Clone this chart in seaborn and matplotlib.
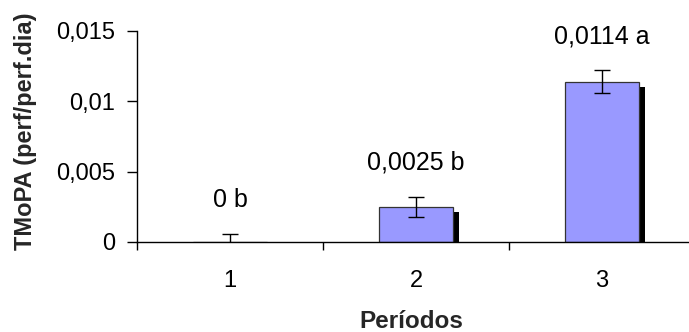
import matplotlib
matplotlib.use("Agg")
import matplotlib.pyplot as plt
import matplotlib.transforms as mtransforms
from matplotlib.ticker import FixedLocator
import seaborn as sns
import pandas as pd

periods = ["1", "2", "3"]
values = [0.0, 0.0025, 0.0114]
errors = [0.0006, 0.0007, 0.0008]
labels = ["0 b", "0,0025 b", "0,0114 a"]
yticks = [0, 0.005, 0.01, 0.015]
ytick_labels = ["0", "0,005", "0,01", "0,015"]

sns.set_theme(style="white")
plt.rcParams["font.family"] = ["Liberation Sans", "DejaVu Sans"]

df = pd.DataFrame({"Periodo": periods, "TMoPA": values})

fig = plt.figure(figsize=(6.89, 3.32), dpi=100)
W, H = 689, 332
ax = fig.add_axes([137 / W, (H - 242) / H, 558 / W, 211 / H])

# shadow bars
sns.barplot(data=df, x="Periodo", y="TMoPA", color="black", width=0.4,
            saturation=1, errorbar=None, ax=ax, zorder=1)
shadow_patches = list(ax.patches)
off = mtransforms.ScaledTranslation(6 / 100, -5 / 100, fig.dpi_scale_trans)
for p in shadow_patches:
    p.set_transform(ax.transData + off)
    p.set_linewidth(0)

# main bars
sns.barplot(data=df, x="Periodo", y="TMoPA", color="#9999FF", width=0.4,
            saturation=1, errorbar=None, ax=ax, zorder=2,
            edgecolor="#333333", linewidth=0.9)

xs = list(range(len(periods)))
ax.errorbar(xs, values, yerr=errors, fmt="none", ecolor="black",
            elinewidth=1.0, capsize=5.8, capthick=1.0, zorder=3)

for x, v, e, lab in zip(xs, values, errors, labels):
    ax.annotate(lab, (x, v + e), xytext=(0, 34), textcoords="offset pixels",
                ha="center", va="center", fontsize=18, color="black")

ax.set_xlim(-0.5, 2.5)
ax.set_ylim(0, 0.015)
ax.yaxis.set_major_locator(FixedLocator(yticks))
ax.set_yticklabels(ytick_labels)

ax.xaxis.set_minor_locator(FixedLocator([-0.5, 0.5, 1.5]))
ax.tick_params(axis="x", which="major", length=0, pad=20, labelsize=17, colors="black")
ax.tick_params(axis="x", which="minor", length=6, width=1, direction="out",
               colors="black", bottom=True)
ax.tick_params(axis="y", which="major", length=7, width=1, direction="out",
               pad=9, labelsize=17, colors="black", left=True)

for s in ["top", "right"]:
    ax.spines[s].set_visible(False)
for s in ["left", "bottom"]:
    ax.spines[s].set_color("black")
    ax.spines[s].set_linewidth(1)

ax.set_xlabel("Períodos", fontsize=17.5, fontweight="bold")
ax.set_ylabel("TMoPA (perf/perf.dia)", fontsize=17, fontweight="bold")
ax.xaxis.set_label_coords((411 - 137) / 558, -(310 - 242) / 211)
ax.yaxis.set_label_coords((37 - 137) / 558, (242 - 131) / 211)

fig.savefig("out.png", dpi=100)
